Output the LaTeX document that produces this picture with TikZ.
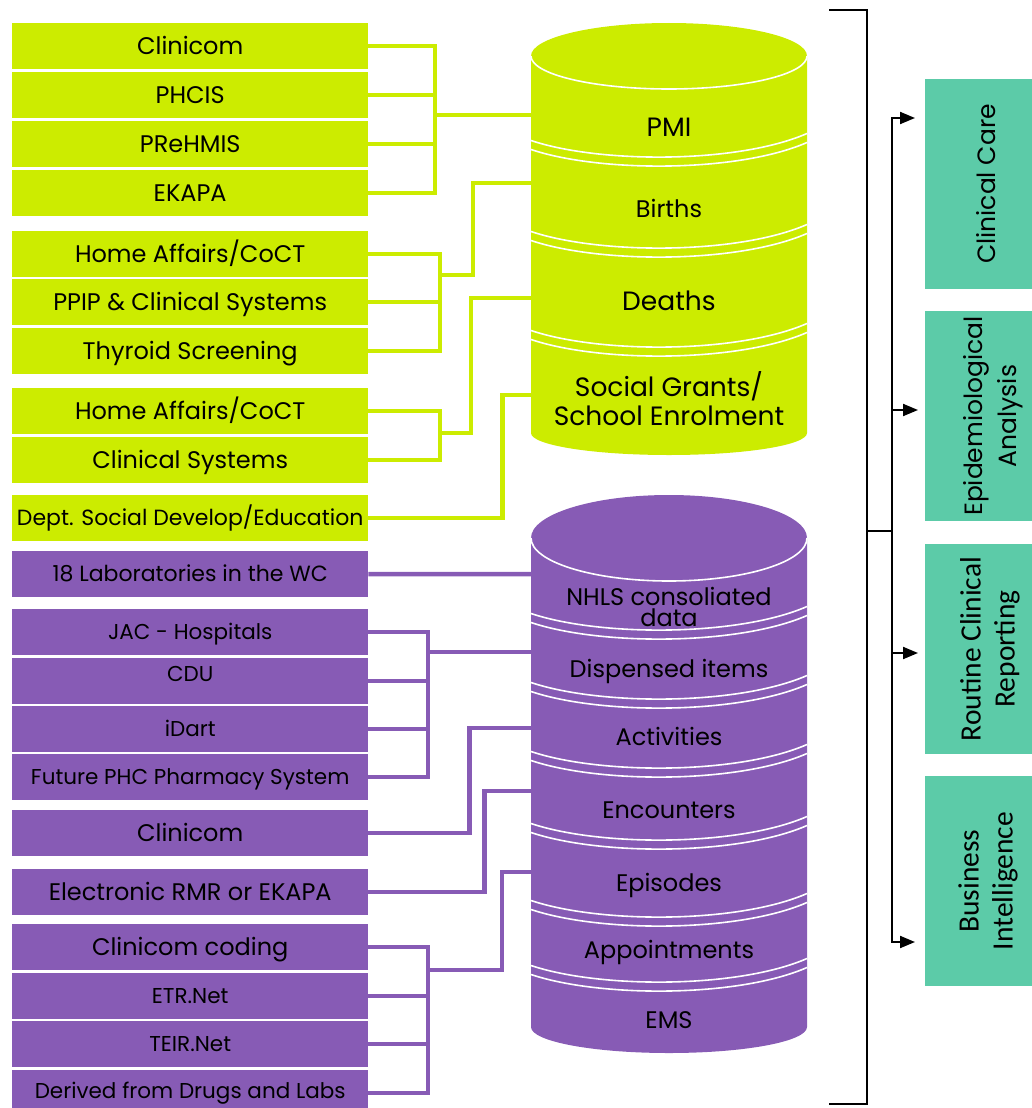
\documentclass[tikz,border=0pt]{standalone}
\usepackage{fontspec}
\setmainfont{Poppins}
\newfontfamily\calfont{Carlito}
\usetikzlibrary{arrows.meta}
\definecolor{limeg}{RGB}{204,236,0}
\definecolor{violetp}{RGB}{135,91,181}
\definecolor{tealr}{RGB}{92,203,168}
\newcommand\mycyl[5]{%
  \fill[#1] (531,#2) .. controls (531,#2-#3*0.5523) and (592.78,#2-#3) .. (669,#2-#3)
     .. controls (745.22,#2-#3) and (807,#2-#3*0.5523) .. (807,#2) -- (807,#4)
     .. controls (807,#4+#5*0.5523) and (745.22,#4+#5) .. (669,#4+#5)
     .. controls (592.78,#4+#5) and (531,#4+#5*0.5523) .. (531,#4) -- cycle;
  \draw[white,line width=1.6pt] (531,#2) .. controls (531,#2+#3*0.5523) and (592.78,#2+#3) .. (669,#2+#3)
     .. controls (745.22,#2+#3) and (807,#2+#3*0.5523) .. (807,#2);
}
\newcommand\mysep[1]{%
  \foreach \o in {0,9}{%
    \draw[white,line width=1.6pt] (531,#1-16.5+\o) .. controls (600,#1+6.67+\o) and (738,#1+6.67+\o) .. (807,#1-23.5+\o);
  }%
}
\begin{document}
\begin{tikzpicture}[x=1pt,y=-1pt,
  srcbox/.style={minimum width=356pt, minimum height=46pt, inner sep=0pt, anchor=north west,
     font=\fontsize{24}{28}\selectfont, text height=16.7pt, text depth=0pt, text=black},
  gbox/.style={srcbox, fill=limeg},
  pbox/.style={srcbox, fill=violetp},
  sm/.style={font=\fontsize{21.5}{25}\selectfont, text height=15pt},
  gline/.style={draw=limeg, line width=4.5pt},
  pline/.style={draw=violetp, line width=4.5pt},
  cyltxt/.style={font=\fontsize{24}{28}\selectfont, text height=16.7pt, text depth=0pt, inner sep=0pt, text=black},
  big/.style={font=\fontsize{26.5}{30}\selectfont, text height=18.4pt},
  cyltwo/.style={font=\fontsize{24}{29}\selectfont, align=center, inner sep=0pt, text=black},
  blk/.style={draw=black, line width=2pt},
  arr/.style={blk, -{Triangle[length=15pt,width=12pt]}},
  rbox/.style={fill=tealr, rotate=90, minimum width=210pt, inner sep=0pt, align=center, text=black},
  ]
\useasboundingbox (0,0) rectangle (1031,1108);

% ---------- left source boxes ----------
\node[gbox] (g1) at (12,23) {Clinicom};
\node[gbox] (g2) at (12,72) {PHCIS};
\node[gbox] (g3) at (12,121) {PReHMIS};
\node[gbox] (g4) at (12,170) {EKAPA};
\node[gbox] (g5) at (12,231) {Home Affairs/CoCT};
\node[gbox] (g6) at (12,279) {PPIP \& Clinical Systems};
\node[gbox] (g7) at (12,328) {Thyroid Screening};
\node[gbox] (g8) at (12,388) {Home Affairs/CoCT};
\node[gbox] (g9) at (12,437) {Clinical Systems};
\node[gbox,sm,font=\fontsize{22}{25}\selectfont] (g10) at (12,495) {Dept. Social Develop/Education};

\node[pbox,sm,font=\fontsize{22}{25}\selectfont] (p11) at (12,551) {18 Laboratories in the WC};
\node[pbox,sm] (p12) at (12,609) {JAC - Hospitals};
\node[pbox,sm,text depth=14pt] (p13) at (12,658) {CDU};
\node[pbox,sm] (p14) at (12,706) {iDart};
\node[pbox,sm] (p15) at (12,754) {Future PHC Pharmacy System};
\node[pbox] (p16) at (12,810) {Clinicom};
\node[pbox] (p17) at (12,869) {Electronic RMR or EKAPA};
\node[pbox] (p18) at (12,924) {Clinicom coding};
\node[pbox,sm] (p19) at (12,973) {ETR.Net};
\node[pbox,sm] (p20) at (12,1021) {TEIR.Net};
\node[pbox,sm,text depth=4pt] (p21) at (12,1070) {Derived from Drugs and Labs};

% ---------- junctions and inputs ----------
\coordinate (jA) at (435,115);
\coordinate (jB) at (440,275);
\coordinate (jC) at (440,433);
\coordinate (jD) at (428,652);
\coordinate (jE) at (428,970);
\coordinate (inPMI) at (533,115);
\coordinate (inBirths) at (533,183);
\coordinate (inDeaths) at (533,298);
\coordinate (inSocial) at (533,395);
\coordinate (inNHLS) at (533,574);
\coordinate (inDisp) at (533,652);
\coordinate (inAct) at (533,728);
\coordinate (inEnc) at (533,791);
\coordinate (inEpi) at (533,872);

% ---------- green connectors ----------
\foreach \n in {g1,g2,g3,g4} \draw[gline] (\n.east) -| (jA);
\draw[gline] (jA) -- (inPMI);
\foreach \n in {g5,g6,g7} \draw[gline] (\n.east) -| (jB);
\draw[gline] (jB) -- ++(33,0) |- (inBirths);
\foreach \n in {g8,g9} \draw[gline] (\n.east) -| (jC);
\draw[gline] (jC) -- ++(31,0) |- (inDeaths);
\draw[gline] (g10.east) -- ++(134,0) |- (inSocial);

% ---------- purple connectors ----------
\draw[pline] (p11.east) -- (inNHLS);
\foreach \n in {p12,p13,p14,p15} \draw[pline] (\n.east) -| (jD);
\draw[pline] (jD) -- (inDisp);
\draw[pline] (p16.east) -- ++(101,0) |- (inAct);
\draw[pline] (p17.east) -- ++(116,0) |- (inEnc);
\foreach \n in {p18,p19,p20,p21} \draw[pline] (\n.east) -| (jE);
\draw[pline] (jE) -- ++(74,0) |- (inEpi);

% ---------- cylinders ----------
\mycyl{limeg}{56}{33}{433}{22}
\mysep{157}
\mysep{248}
\mysep{347}
\node[cyltxt,big] (pmi) at (669,127) {PMI};
\node[cyltxt] (births) at (669,209) {Births};
\node[cyltxt,big] (deaths) at (669,301) {Deaths};
\node[cyltwo,font=\fontsize{26.5}{29}\selectfont] (social) at (669,399) {Social Grants/\\School Enrolment};

\mycyl{violetp}{538}{43}{1027}{26}
\mysep{630}
\mysep{699}
\mysep{768}
\mysep{840}
\mysep{917}
\mysep{982}
\node[cyltwo,font=\fontsize{24}{21}\selectfont] (nhls) at (669,607) {NHLS consoliated\\data};
\node[cyltxt] (disp) at (669,669) {Dispensed items};
\node[cyltxt] (act) at (669,737) {Activities};
\node[cyltxt] (enc) at (669,810) {Encounters};
\node[cyltxt] (epis) at (669,883) {Episodes};
\node[cyltxt] (appt) at (669,950) {Appointments};
\node[cyltxt] (ems) at (669,1020) {EMS};

% ---------- right-hand outputs (left edge at x = 925) ----------
\node[rbox,minimum height=122pt,font=\fontsize{25}{34}\selectfont] (care) at (986,184) {Clinical Care};
\node[rbox,minimum height=136pt,font=\fontsize{25}{34}\selectfont] (epid) at (993,416) {Epidemiological\\Analysis};
\node[rbox,minimum height=130pt,font=\calfont\fontsize{29.5}{34}\selectfont] (rout) at (990,649) {Routine Clinical\\Reporting};
\node[rbox,minimum height=126pt,font=\calfont\fontsize{29.5}{34}\selectfont] (bi) at (988,881) {Business\\Intelligence};

\coordinate (bt) at (829,10);
\coordinate (bb) at (829,1104);
\coordinate (bm) at (867,531);
\coordinate (ai) at (892,531);
\coordinate (t1) at (915,118);
\coordinate (t2) at (918,410);
\coordinate (t3) at (918,653);
\coordinate (t4) at (915,942);
\draw[blk] (bt) -| (bm) |- (bb);
\draw[blk] (bm) -- (ai);
\draw[arr] (ai) |- (t1);
\draw[arr] (ai) |- (t4);
\draw[arr] (ai |- t2) -- (t2);
\draw[arr] (ai |- t3) -- (t3);
\end{tikzpicture}
\end{document}
